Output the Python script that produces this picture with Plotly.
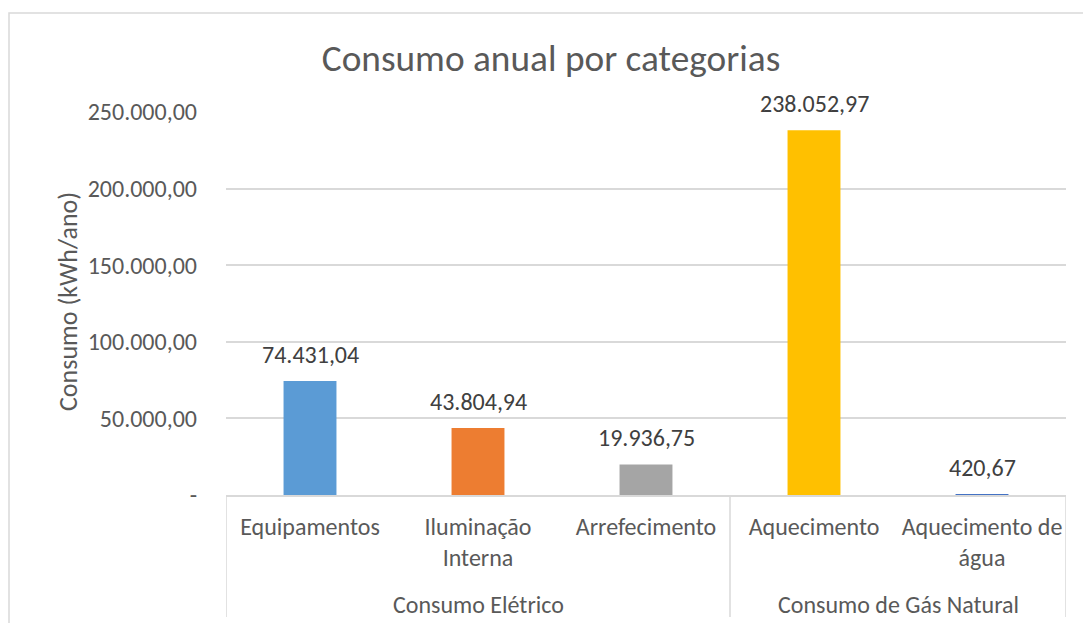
import plotly.graph_objects as go

# ---- data ----
categories = ["Equipamentos", "Iluminação<br>Interna", "Arrefecimento", "Aquecimento", "Aquecimento de<br>água"]
groups = ["Consumo Elétrico", "Consumo Elétrico", "Consumo Elétrico", "Consumo de Gás Natural", "Consumo de Gás Natural"]
values = [74431.04, 43804.94, 19936.75, 238052.97, 420.67]
bar_colors = ["#5B9BD5", "#ED7D31", "#A5A5A5", "#FFC000", "#4472C4"]
y_tickvals = [0, 50000, 100000, 150000, 200000, 250000]
y_ticktext = ["-", "50.000,00", "100.000,00", "150.000,00", "200.000,00", "250.000,00"]
title_text = "Consumo anual por categorias"
y_title = "Consumo (kWh/ano)"

W, H = 1083, 623
FONT = "Carlito, Calibri, Lato, sans-serif"
TXT = "#595959"
GRID = "#D9D9D9"

def fmt_br(v):
    s = f"{v:,.2f}"
    return s.replace(",", "X").replace(".", ",").replace("X", ".")

xpos = list(range(len(categories)))

fig = go.Figure()
fig.add_trace(go.Bar(
    x=xpos, y=values, marker=dict(color=bar_colors, line=dict(width=0)),
    width=0.315, hoverinfo="skip", showlegend=False,
))

annotations = []
for i, v in enumerate(values):
    annotations.append(dict(x=i, y=v, xref="x", yref="y", text=fmt_br(v), showarrow=False,
                            yanchor="bottom", yshift=10, font=dict(family=FONT, size=24, color="#404040")))

# group labels
group_names = []
for g in groups:
    if g not in group_names:
        group_names.append(g)
for g in group_names:
    idx = [i for i, gg in enumerate(groups) if gg == g]
    cx = (idx[0] + idx[-1]) / 2
    annotations.append(dict(x=cx, y=(H - 604) / H, xref="x", yref="paper", text=g, showarrow=False,
                            yanchor="middle", font=dict(family=FONT, size=24, color=TXT)))

annotations.append(dict(x=68 / W, y=(H - 302) / H, xref="paper", yref="paper", text=y_title,
                        textangle=-90, showarrow=False, xanchor="center", yanchor="middle",
                        font=dict(family=FONT, size=26, color=TXT)))

shapes = []
bounds = [-0.5]
for i in range(1, len(groups)):
    if groups[i] != groups[i - 1]:
        bounds.append(i - 0.5)
bounds.append(len(groups) - 0.5)
for b in bounds:
    shapes.append(dict(type="line", xref="x", yref="paper", x0=b, x1=b, y0=(H - 495) / H, y1=(H - 617) / H,
                       line=dict(color=GRID, width=1.5)))
shapes.append(dict(type="rect", xref="paper", yref="paper", x0=9 / W, x1=1.2, y0=-0.2, y1=(H - 13) / H,
                   line=dict(color=GRID, width=1.5), fillcolor="rgba(0,0,0,0)", layer="below"))

fig.update_layout(
    width=W, height=H, margin=dict(l=0, r=0, t=0, b=0, autoexpand=False),
    paper_bgcolor="white", plot_bgcolor="white",
    font=dict(family=FONT, color=TXT, size=24),
    title=dict(text=title_text, x=551 / W, xanchor="center", y=(H - 58) / H, yanchor="middle",
               font=dict(family=FONT, size=37.3, color=TXT)),
    bargap=0.685,
    xaxis=dict(domain=[226 / W, 1066 / W], range=[-0.5, 4.5], tickmode="array", tickvals=xpos,
               ticktext=categories, showline=True, linecolor=GRID, linewidth=1.5, ticks="",
               showgrid=False, zeroline=False, ticklabelstandoff=9, automargin=False,
               tickfont=dict(family=FONT, size=24, color=TXT)),
    yaxis=dict(domain=[(H - 495) / H, (H - 112) / H], range=[0, 250000], tickmode="array",
               tickvals=y_tickvals, ticktext=y_ticktext, showgrid=True, gridcolor=GRID, gridwidth=1.5,
               zeroline=False, showline=False, ticks="", ticklabelstandoff=28, automargin=False,
               tickfont=dict(family=FONT, size=24, color=TXT)),
    annotations=annotations, shapes=shapes,
)

fig.write_html("out.html", config={"displayModeBar": False},
               post_script="document.body.style.margin='0';document.body.style.overflow='hidden';")
